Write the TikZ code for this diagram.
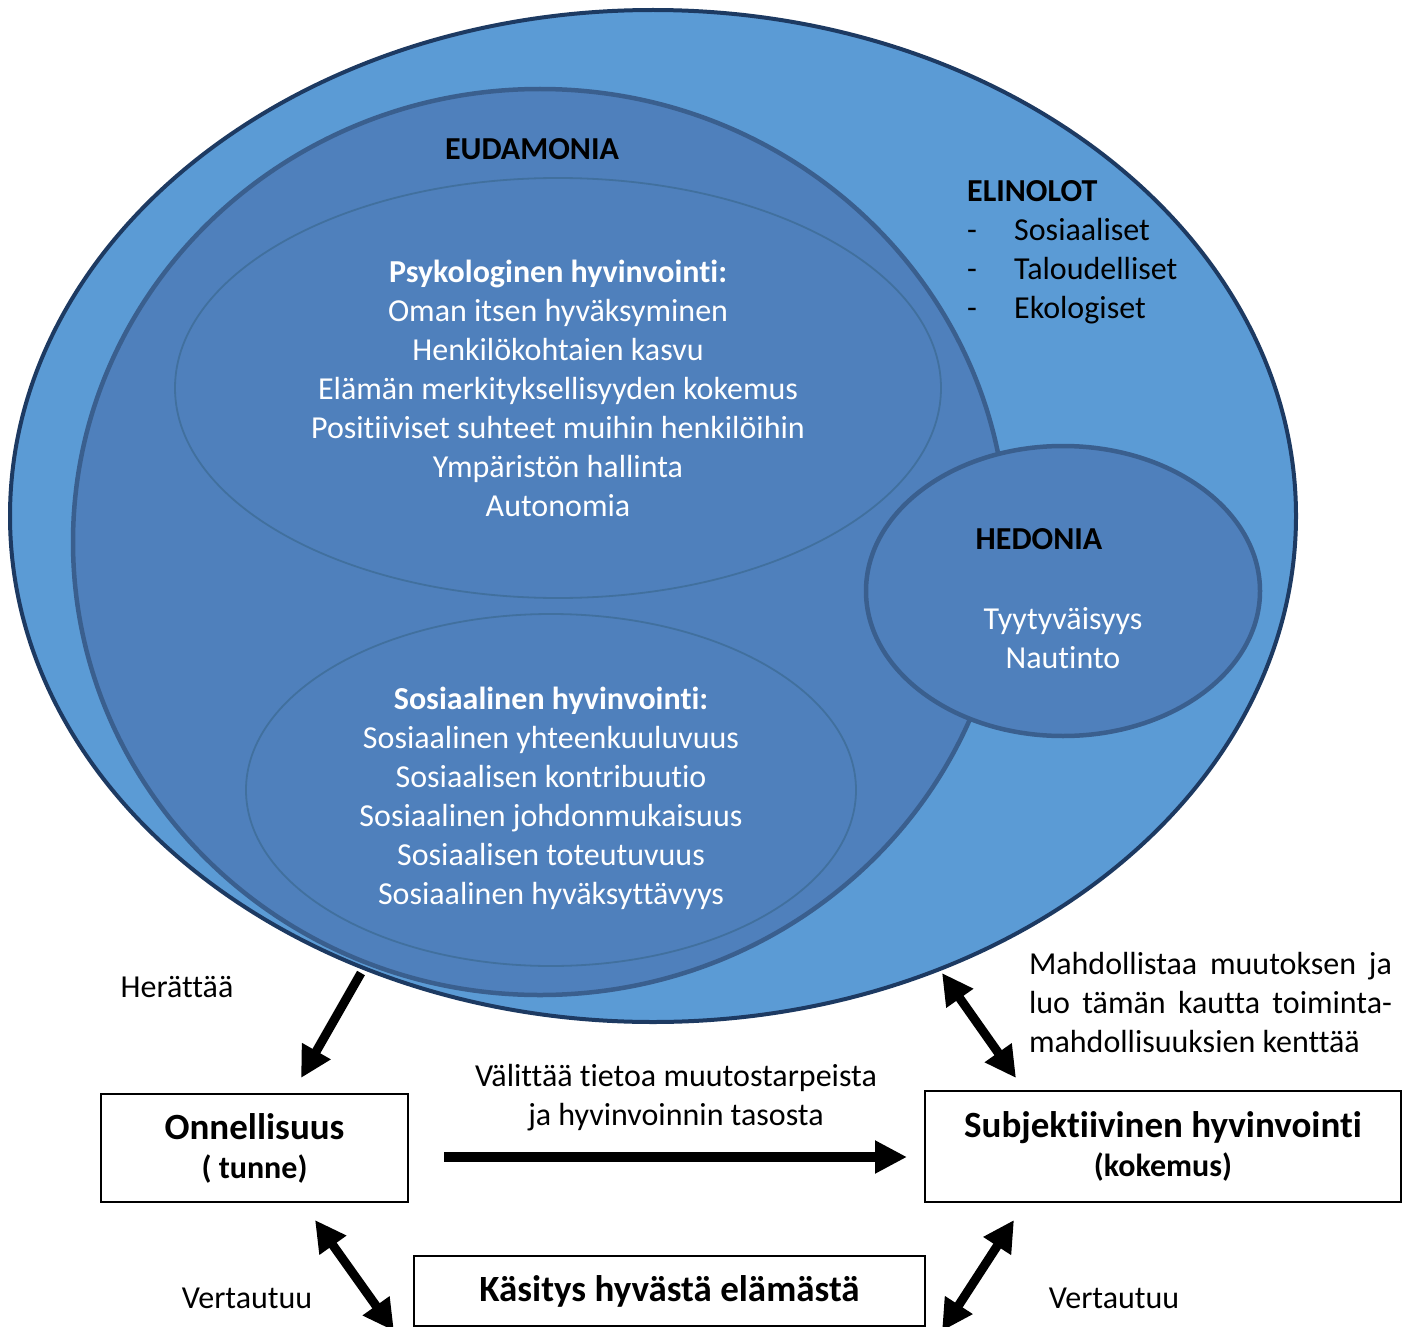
\documentclass[tikz,border=0pt]{standalone}
\usepackage{fontspec}
\setmainfont{Carlito}[RawFeature={-liga;-clig;-dlig;-calt}]
\usetikzlibrary{arrows.meta,shapes.geometric}
\definecolor{outerfill}{HTML}{5B9BD5}
\definecolor{outerline}{HTML}{1D3A62}
\definecolor{eudfill}{HTML}{4F80BC}
\definecolor{eudline}{HTML}{3A5F8E}
\definecolor{innerline}{HTML}{41709E}
\begin{document}
\begin{tikzpicture}[x=1pt,y=-1pt,
  every node/.style={inner sep=0pt, font=\fontsize{32}{39}\selectfont},
  blob/.style={ellipse, inner sep=0pt},
  wtxt/.style={text=white, align=center},
  btxt/.style={text=black, font=\fontsize{32}{39}\selectfont\bfseries},
  box/.style={draw=black, line width=2pt, align=center, fill=white},
  arr/.style={line width=9pt, -{Triangle[length=31pt,width=31pt]}},
  darr/.style={line width=9pt, {Triangle[length=31pt,width=31pt]}-{Triangle[length=31pt,width=31pt]}}
]
\fill[white] (0,0) rectangle (1414,1327);
\useasboundingbox (0,0) rectangle (1414,1327);

% ellipses
\node[blob, draw=outerline, line width=4pt, fill=outerfill, minimum width=1286pt, minimum height=1012pt] (outer) at (653,516) {};
\node[blob, draw=eudline, line width=4.5pt, fill=eudfill, minimum width=934pt, minimum height=906pt] (eud) at (540,542) {};
\node[blob, draw=innerline, line width=1.8pt, minimum width=766pt, minimum height=420pt] (psyk) at (558,388) {};
\node[blob, draw=innerline, line width=1.8pt, minimum width=610pt, minimum height=352pt] (sos) at (551,790) {};
\node[blob, draw=eudline, line width=4.5pt, fill=eudfill, minimum width=394pt, minimum height=290pt] (hed) at (1063,591) {};

% texts in ellipses
\node[btxt] (eudt) at (532,149) {EUDAMONIA};
\node[wtxt] (psykt) at (558,388) {\textbf{Psykologinen hyvinvointi:}\\Oman itsen hyväksyminen\\Henkilökohtaien kasvu\\Elämän merkityksellisyyden kokemus\\Positiiviset suhteet muihin henkilöihin\\Ympäristön hallinta\\Autonomia};
\node[wtxt] (sost) at (551,798) {\textbf{Sosiaalinen hyvinvointi:}\\Sosiaalinen yhteenkuuluvuus\\Sosiaalisen kontribuutio\\Sosiaalinen johdonmukaisuus\\Sosiaalisen toteutuvuus\\Sosiaalinen hyväksyttävyys};
\node[btxt] (hedt) at (1039,539) {HEDONIA};
\node[wtxt] (hedl) at (1063,638) {Tyytyväisyys\\Nautinto};
\node[align=left, anchor=west] (elin) at (967,252) {\textbf{ELINOLOT}\\\makebox[47pt][l]{-}Sosiaaliset\\\makebox[47pt][l]{-}Taloudelliset\\\makebox[47pt][l]{-}Ekologiset};

% boxes
\node[box, minimum width=307pt, minimum height=108pt] (onn) at (254.5,1148) {{\fontsize{37}{42}\selectfont\bfseries Onnellisuus}\\{\bfseries ( tunne)}};
\node[box, minimum width=476pt, minimum height=111pt] (subj) at (1163,1146.5) {{\fontsize{37}{42}\selectfont\bfseries Subjektiivinen hyvinvointi}\\{\bfseries (kokemus)}};
\node[box, minimum width=511pt, minimum height=70pt] (kas) at (669.5,1291) {\fontsize{37}{41}\selectfont\bfseries Käsitys hyvästä elämästä};

% labels
\node (lher) at (177,987) {Herättää};
\node[align=center] (lval) at (676,1098) {Välittää tietoa muutostarpeista\\ja hyvinvoinnin tasosta};
\node[text width=363pt, align=justify] (lmah) at (1210.5,1002) {Mahdollistaa muutoksen ja\linebreak luo tämän kautta toiminta-\linebreak mahdollisuuksien kenttää};
\node (lv1) at (247,1298) {Vertautuu};
\node (lv2) at (1114,1298) {Vertautuu};

% arrow end points
\coordinate (a1s) at (361,973);
\coordinate (a1e) at (301,1078);
\coordinate (a2s) at (444,1157);
\coordinate (a2e) at (907,1157);
\coordinate (a3s) at (942,973);
\coordinate (a3e) at (1016,1078);
\coordinate (a4s) at (315,1220);
\coordinate (a4e) at (394,1331);
\coordinate (a5s) at (1014,1220);
\coordinate (a5e) at (942,1331);

\draw[arr] (a1s) -- (a1e);
\draw[line width=10pt, -{Triangle[length=32pt,width=31pt]}] (a2s) -- (a2e);
\draw[darr] (a3s) -- (a3e);
\draw[darr] (a4s) -- (a4e);
\draw[darr] (a5s) -- (a5e);
\end{tikzpicture}
\end{document}
